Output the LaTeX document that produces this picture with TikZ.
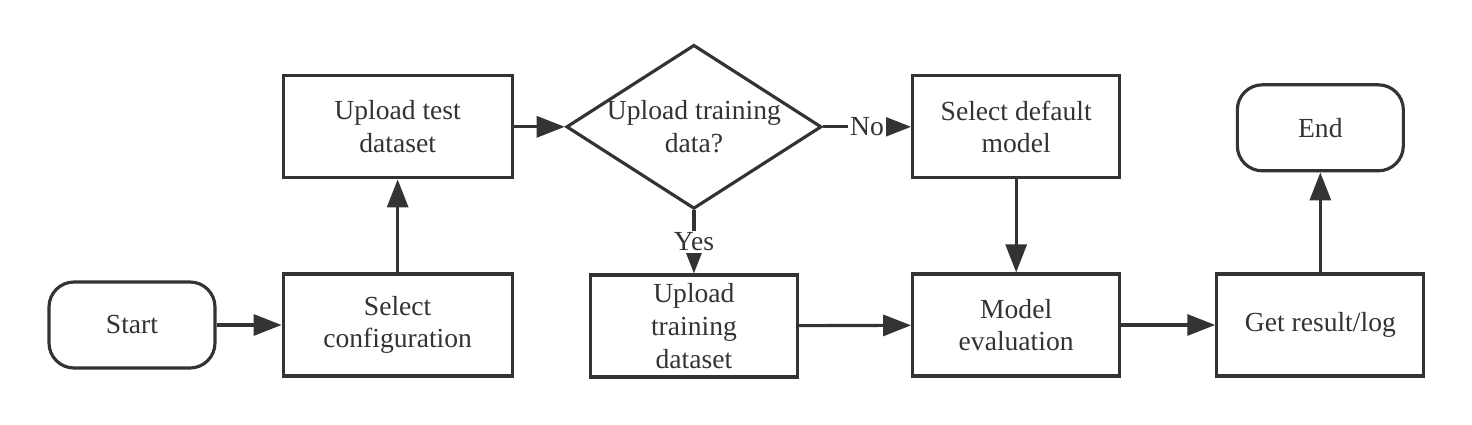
\documentclass[tikz,border=0pt]{standalone}
\usepackage{fontspec}
\setmainfont{Liberation Serif}
\usepackage{tikz}
\usetikzlibrary{arrows.meta, shapes.geometric, positioning}
\definecolor{darkline}{RGB}{51,51,51}

\begin{document}
\begin{tikzpicture}[
  font=\fontsize{15.7}{18.6}\selectfont,
  box/.style={draw=darkline, line width=1.8pt, text=darkline, minimum height=2.04cm,
              minimum width=4.14cm, align=center, inner sep=2pt},
  term/.style={draw=darkline, line width=1.8pt, text=darkline, rounded corners=0.5cm,
               minimum height=1.72cm, minimum width=3.32cm, align=center},
  decide/.style={draw=darkline, line width=1.8pt, text=darkline, diamond, aspect=1.556,
                 minimum width=5.04cm, minimum height=3.24cm, inner sep=0pt, align=center},
  arrow/.style={-{Triangle[length=0.56cm, width=0.42cm]}, line width=1.8pt, darkline},
  lbl/.style={fill=white, text=darkline, inner sep=1pt}
]
\useasboundingbox (0,0) rectangle (29.44,8.5);

\node[term] (start) at (2.64,2.0) {Start};
\node[box, minimum width=4.58cm, right=1.3cm of start] (selcfg) {Select\\configuration};
\node[box, minimum width=4.58cm, above=1.86cm of selcfg] (uptest) {Upload test\\dataset};
\node[decide, right=1.02cm of uptest] (dec) {Upload training\\data?};
\node[box, right=1.76cm of dec]     (seldef)  {Select default\\model};
\node[box, below=1.26cm of dec]     (uptrain) {Upload\\training\\dataset};
\node[box, below=1.86cm of seldef]  (modeval) {Model\\evaluation};
\node[box, right=1.88cm of modeval] (getres)  {Get result/log};
\node[term, above=2cm of getres]    (end)     {End};

\draw[arrow] (start)--(selcfg); \draw[arrow] (selcfg)--(uptest);
\draw[arrow] (uptest)--(dec);
\draw[arrow] (dec.east)--(seldef) node[lbl, midway] {No};
\draw[arrow] (dec.south)--(uptrain) node[lbl, midway] {Yes};
\draw[arrow] (uptrain)--(modeval); \draw[arrow] (seldef)--(modeval);
\draw[arrow] (modeval)--(getres); \draw[arrow] (getres)--(end);
\end{tikzpicture}
\end{document}
